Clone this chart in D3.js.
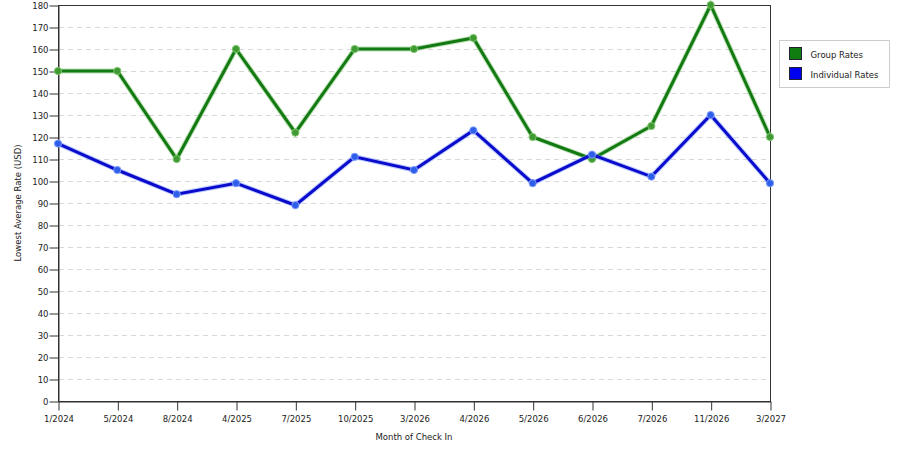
<!DOCTYPE html>
<html>
<head>
<meta charset="utf-8">
<script src="https://cdn.jsdelivr.net/npm/d3@7"></script>
<style>
  body { margin: 0; background: #fff; }
  text { font-family: "DejaVu Sans", Verdana, sans-serif; fill: #222; }
</style>
</head>
<body>
<div id="chart"></div>
<script>
var months = ["1/2024", "5/2024", "8/2024", "4/2025", "7/2025", "10/2025", "3/2026",
              "4/2026", "5/2026", "6/2026", "7/2026", "11/2026", "3/2027"];
var groupRates = [150, 150, 110, 160, 122, 160, 160, 165, 120, 110, 125, 180, 120];
var individualRates = [117, 105, 94, 99, 89, 111, 105, 123, 99, 112, 102, 130, 99];
var yTicks = d3.range(0, 181, 10);

var width = 900,
  height = 450;

var margin = { left: 58, top: 5, right: 130, bottom: 49 };

var svg = d3.select("#chart").append("svg")
  .attr("width", width)
  .attr("height", height);

var x = d3.scalePoint()
  .domain(months)
  .range([margin.left, width - margin.right]);

var y = d3.scaleLinear()
  .domain([0, 180])
  .range([height - margin.bottom, margin.top]);

// grid
svg.append("g")
  .selectAll("line")
  .data(yTicks.filter(function(d) { return d > 0 && d < 180; }))
  .enter().append("line")
  .attr("x1", margin.left + 1)
  .attr("x2", width - margin.right)
  .attr("y1", function(d) { return y(d) + 0.5; })
  .attr("y2", function(d) { return y(d) + 0.5; })
  .style("stroke", "#d8d8d8")
  .style("stroke-dasharray", "5,4");

// frame
svg.append("rect")
  .attr("x", margin.left + 0.5)
  .attr("y", margin.top + 0.5)
  .attr("width", width - margin.right - margin.left)
  .attr("height", height - margin.bottom - margin.top)
  .style("fill", "none")
  .style("stroke", "#333");

var xAxis = svg.append("g")
  .attr("transform", "translate(0.5," + (y(0) + 0.5) + ")")
  .call(d3.axisBottom(x).tickSize(9).tickSizeOuter(0));

var yAxis = svg.append("g")
  .attr("transform", "translate(" + (margin.left + 0.5) + ",0.5)")
  .call(d3.axisLeft(y).tickValues(yTicks).tickSize(9).tickSizeOuter(0));

[xAxis, yAxis].forEach(function(a) {
  a.select(".domain").style("stroke", "#333");
  a.selectAll(".tick line").style("stroke", "#333");
  a.selectAll(".tick text")
    .style("font-family", "DejaVu Sans, sans-serif")
    .style("font-size", "8.5px")
    .style("fill", "#222");
});
xAxis.selectAll(".tick text").attr("dy", "0.35em").attr("y", 18);
yAxis.selectAll(".tick text").attr("x", -10);

// axis titles
svg.append("text")
  .attr("x", (margin.left + width - margin.right) / 2)
  .attr("y", 440)
  .attr("text-anchor", "middle")
  .style("font-size", "8.5px")
  .text("Month of Check In");

svg.append("text")
  .attr("transform", "translate(21," + ((margin.top + height - margin.bottom) / 2) + ") rotate(-90)")
  .attr("text-anchor", "middle")
  .style("font-size", "8.5px")
  .text("Lowest Average Rate (USD)");

var series = [
  { name: "Group Rates", values: groupRates, color: "#137a13", glow: "#7cc46c", dot: "#3f9a33" },
  { name: "Individual Rates", values: individualRates, color: "#0b0bcc", glow: "#7a9aff", dot: "#2f5fe8" }
];

var line = d3.line()
  .x(function(d, i) { return x(months[i]); })
  .y(function(d) { return y(d); });

series.forEach(function(s) {
  var g = svg.append("g");
  g.append("path")
    .attr("d", line(s.values))
    .style("fill", "none")
    .style("stroke", s.glow)
    .style("stroke-opacity", 0.5)
    .style("stroke-width", 5);
  g.append("path")
    .attr("d", line(s.values))
    .style("fill", "none")
    .style("stroke", s.color)
    .style("stroke-width", 3);
  g.selectAll("circle")
    .data(s.values)
    .enter().append("circle")
    .attr("cx", function(d, i) { return x(months[i]); })
    .attr("cy", function(d) { return y(d); })
    .attr("r", 3.6)
    .style("fill", s.dot)
    .style("stroke", s.glow)
    .style("stroke-width", 1);
});

// legend
var legend = svg.append("g").attr("transform", "translate(779.5,40.5)");
legend.append("rect")
  .attr("width", 110)
  .attr("height", 47)
  .style("fill", "#fff")
  .style("stroke", "#ccc");

var legendColors = ["#0f7d0f", "#0000f0"];
series.forEach(function(s, i) {
  legend.append("rect")
    .attr("x", 10)
    .attr("y", 7 + i * 20)
    .attr("width", 12)
    .attr("height", 12)
    .style("fill", legendColors[i])
    .style("stroke", "#223");
  legend.append("text")
    .attr("x", 31)
    .attr("y", 17 + i * 20)
    .style("font-size", "8.5px")
    .text(s.name);
});
</script>
</body>
</html>
